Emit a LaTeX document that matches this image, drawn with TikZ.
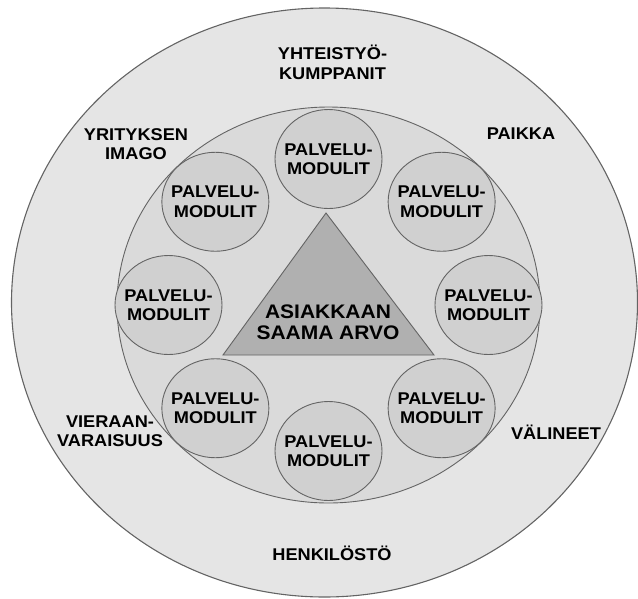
\documentclass[tikz,border=0pt]{standalone}
\usepackage{fontspec}
\setmainfont{Liberation Sans}[FakeStretch=1.07]
\usetikzlibrary{shapes.geometric}
\definecolor{outerfill}{RGB}{229,229,229}
\definecolor{innerfill}{RGB}{218,218,218}
\definecolor{modfill}{RGB}{208,208,208}
\definecolor{trifill}{RGB}{176,176,176}
\definecolor{linec}{RGB}{100,100,100}
\begin{document}
\begin{tikzpicture}[x=1pt,y=-1pt,
  lbl/.style={font=\bfseries\fontsize{17}{19.5}\selectfont, align=center, inner sep=0pt},
  biglbl/.style={font=\bfseries\fontsize{19.6}{21.5}\selectfont, align=center, inner sep=0pt},
  ring/.style={ellipse, draw=linec, line width=0.9pt, inner sep=0pt},
  modul/.style={ring, fill=modfill, minimum width=107pt, minimum height=99pt}]
\useasboundingbox (0,0) rectangle (638,598);
% outer and inner rings
\node[ring, fill=outerfill, line width=1.1pt, minimum width=626pt, minimum height=589pt] (outer) at (324.5,302.5) {};
\node[ring, fill=innerfill, minimum width=423pt, minimum height=396pt] (inner) at (328.5,305) {};
% modules
\foreach \a/\n in {90/m1,45/m2,0/m3,-45/m4,-90/m5,-135/m6,180/m7,135/m8}{
  \node[modul] (\n) at ({328.5+160*cos(\a)},{305-146*sin(\a)}) {};
  \node[lbl] at (\n) {PALVELU-\\MODULIT};
}
% triangle
\coordinate (ta) at (326,213);
\coordinate (tl) at (223,355);
\coordinate (tr) at (434,355);
\draw[draw=linec, line width=0.9pt, fill=trifill] (ta) -- (tl) -- (tr) -- cycle;
\node[biglbl] (value) at (328,322) {ASIAKKAAN\\SAAMA ARVO};
% outer labels
\node[lbl] (yht) at (332.5,62.5) {YHTEISTYÖ-\\KUMPPANIT};
\node[lbl] (yri) at (136,144) {YRITYKSEN\\IMAGO};
\node[lbl] (pai) at (521,134) {PAIKKA};
\node[lbl] (vie) at (110,431) {VIERAAN-\\VARAISUUS};
\node[lbl] (val) at (556,432) {VÄLINEET};
\node[lbl] (hen) at (332,553) {HENKILÖSTÖ};
\end{tikzpicture}
\end{document}
